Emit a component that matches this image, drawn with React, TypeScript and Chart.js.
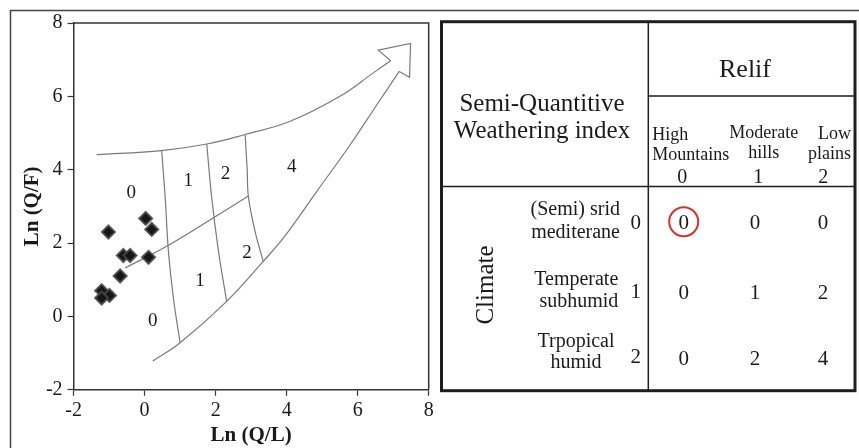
import React, { useEffect, useRef } from "react";
import { Chart, registerables } from "chart.js";
Chart.register(...registerables);

const W = 859;
const H = 448;
const SERIF = '"Liberation Serif", "Times New Roman", serif';

// Scatter samples: Ln(Q/L), Ln(Q/F)
const sampleX = [0.03, 0.2, 0.11, -1.02, -0.6, -0.41, -0.69, -1.21, -0.99, -1.21];
const sampleY = [2.67, 2.37, 1.61, 2.3, 1.66, 1.66, 1.1, 0.7, 0.57, 0.5];

// Diagram outline (arrow-shaped field)
const upperCurve = [[-1.35, 4.41], [0.48, 4.52], [1.75, 4.7], [2.83, 4.96], [4.1, 5.32], [5.5, 6.0], [6.44, 6.64], [6.93, 6.97]];
const arrowHead = [[6.93, 6.97], [6.58, 7.26], [7.49, 7.44], [7.46, 6.52], [7.17, 6.68]];
const lowerCurve = [[0.23, -1.22], [1.0, -0.72], [2.31, 0.41], [3.34, 1.5], [3.91, 2.14], [4.85, 3.41], [5.79, 4.68], [6.54, 5.77], [7.17, 6.68]];
const boundaryA = [[0.48, 4.52], [0.58, 3.23], [0.67, 1.78], [0.81, 0.5], [1.0, -0.72]];
const boundaryB = [[1.75, 4.7], [1.89, 3.23], [2.08, 1.78], [2.31, 0.41]];
const boundaryC = [[2.83, 4.96], [2.89, 3.96], [2.92, 3.28], [3.11, 2.32], [3.34, 1.5]];
const middleLine = [[-0.55, 1.32], [0.62, 1.91], [1.94, 2.69], [2.92, 3.28]];

// Field labels
const fieldText = ["0", "1", "2", "4", "2", "1", "0"];
const fieldX = [-0.38, 1.23, 2.28, 4.14, 2.88, 1.56, 0.23];
const fieldY = [3.37, 3.69, 3.87, 4.08, 1.73, 0.96, -0.13];

// Table contents
const tableTitle = ["Semi-Quantitive", "Weathering index"];
const reliefTitle = "Relif";
const reliefLabels = [["High", "Mountains"], ["Moderate", "hills"], ["Low", "plains"]];
const reliefCodes = ["0", "1", "2"];
const climateTitle = "Climate";
const climateLabels = [["(Semi) srid", "mediterane"], ["Temperate", "subhumid"], ["Trpopical", "humid"]];
const climateCodes = ["0", "1", "2"];
const indexValues = [
  [0, 0, 0],
  [0, 1, 2],
  [0, 2, 4],
];

const toPts = (a: number[][]) => a.map(([x, y]) => ({ x, y }));

export default function App() {
  const ref = useRef<HTMLCanvasElement>(null);
  useEffect(() => {
    const canvas = ref.current;
    if (!canvas) return;
    const lineDs = (data: number[][], tension: number) => ({
      type: "line" as const,
      data: toPts(data),
      showLine: true,
      borderColor: "#7a7a7a",
      borderWidth: 1.2,
      pointRadius: 0,
      tension,
      fill: false,
    });

    const overlay = {
      id: "overlay",
      afterDatasetsDraw(chart: any) {
        const ctx = chart.ctx as CanvasRenderingContext2D;
        const { left, right, top, bottom } = chart.chartArea;
        const xs = chart.scales.x;
        const ys = chart.scales.y;
        ctx.save();
        // top/right frame of plot
        ctx.strokeStyle = "#333";
        ctx.lineWidth = 1.5;
        ctx.beginPath();
        ctx.moveTo(left, top);
        ctx.lineTo(right, top);
        ctx.lineTo(right, bottom);
        ctx.stroke();
        // field labels
        ctx.fillStyle = "#1a1a1a";
        ctx.font = `19px ${SERIF}`;
        ctx.textAlign = "center";
        ctx.textBaseline = "middle";
        fieldText.forEach((t, i) => {
          ctx.fillText(t, xs.getPixelForValue(fieldX[i]), ys.getPixelForValue(fieldY[i]));
        });
        ctx.restore();
      },
      afterDraw(chart: any) {
        const ctx = chart.ctx as CanvasRenderingContext2D;
        ctx.save();
        // outer figure frame
        ctx.strokeStyle = "#444";
        ctx.lineWidth = 1.5;
        ctx.strokeRect(10.5, 10.5, W + 20, H + 20);

        // table
        const tl = 441.5, tt = 21.7, tr = 855, tb = 390.7;
        const vx = 648.3;
        ctx.strokeStyle = "#1e1e1e";
        ctx.lineWidth = 1.5;
        ctx.beginPath();
        ctx.moveTo(vx, tt); ctx.lineTo(vx, tb);
        ctx.moveTo(vx, 96); ctx.lineTo(tr, 96);
        ctx.moveTo(tl, 186.5); ctx.lineTo(tr, 186.5);
        ctx.stroke();
        ctx.lineWidth = 3;
        ctx.strokeRect(tl, tt, tr - tl, tb - tt);

        ctx.fillStyle = "#1a1a1a";
        ctx.textBaseline = "alphabetic";
        ctx.textAlign = "center";
        ctx.font = `26px ${SERIF}`;
        ctx.fillText(reliefTitle, 745, 76.7);
        ctx.font = `25px ${SERIF}`;
        ctx.fillText(tableTitle[0], 542, 111);
        ctx.fillText(tableTitle[1], 542, 138.3);

        ctx.font = `18px ${SERIF}`;
        ctx.textAlign = "left";
        ctx.fillText(reliefLabels[0][0], 652.3, 140);
        ctx.fillText(reliefLabels[0][1], 652.3, 160);
        ctx.textAlign = "center";
        ctx.fillText(reliefLabels[1][0], 763.8, 138.3);
        ctx.fillText(reliefLabels[1][1], 763.8, 158.3);
        ctx.textAlign = "right";
        ctx.fillText(reliefLabels[2][0], 851, 139);
        ctx.fillText(reliefLabels[2][1], 851, 159);

        const colX = [683.7, 755, 823];
        ctx.textAlign = "center";
        ctx.font = `20px ${SERIF}`;
        reliefCodes.forEach((c, i) => ctx.fillText(c, [682.3, 758.3, 823.3][i], 183.3));

        // climate rows
        ctx.font = `20px ${SERIF}`;
        ctx.textAlign = "right";
        ctx.fillText(climateLabels[0][0], 620, 215);
        ctx.fillText(climateLabels[0][1], 620, 238.3);
        ctx.fillText(climateLabels[1][0], 618.3, 285);
        ctx.fillText(climateLabels[1][1], 618.3, 306.7);
        ctx.textAlign = "center";
        ctx.fillText(climateLabels[2][0], 576, 346.7);
        ctx.fillText(climateLabels[2][1], 576, 368.3);

        const rowCodeY = [229.3, 298.3, 362.7];
        const rowValY = [229.3, 299.3, 365];
        ctx.font = `21px ${SERIF}`;
        climateCodes.forEach((c, i) => ctx.fillText(c, 635.7, rowCodeY[i]));
        indexValues.forEach((row, r) =>
          row.forEach((v, c) => ctx.fillText(String(v), colX[c], rowValY[r]))
        );

        // highlight circle
        ctx.strokeStyle = "#d9302c";
        ctx.lineWidth = 2;
        ctx.beginPath();
        ctx.arc(683.7, 221.7, 14.5, 0, Math.PI * 2);
        ctx.stroke();

        // Climate (rotated)
        ctx.translate(486.7, 285);
        ctx.rotate(-Math.PI / 2);
        ctx.font = `25px ${SERIF}`;
        ctx.textAlign = "center";
        ctx.textBaseline = "middle";
        ctx.fillText(climateTitle, 0, 0);
        ctx.restore();
      },
    };

    const chart = new Chart(canvas, {
      type: "scatter",
      data: {
        datasets: [
          {
            data: sampleX.map((x, i) => ({ x, y: sampleY[i] })),
            pointStyle: "rectRot",
            pointRadius: 6.5,
            backgroundColor: "#161616",
            borderColor: "rgba(70,70,70,0.85)",
            borderWidth: 2,
            showLine: false,
          } as any,
          lineDs(upperCurve, 0.4),
          lineDs(arrowHead, 0),
          lineDs(lowerCurve, 0.4),
          lineDs(boundaryA, 0.4),
          lineDs(boundaryB, 0.4),
          lineDs(boundaryC, 0.4),
          lineDs(middleLine, 0.4),
        ],
      },
      options: {
        animation: false,
        responsive: false,
        devicePixelRatio: 1,
        layout: { padding: { left: 10, top: 23, right: W - 428.7, bottom: 0 } },
        plugins: { legend: { display: false }, tooltip: { enabled: false } },
        scales: {
          x: {
            type: "linear",
            min: -2,
            max: 8,
            afterFit: (s: any) => { s.height = 58.3; },
            ticks: { stepSize: 2, padding: 3, color: "#1a1a1a", font: { family: SERIF, size: 20 } },
            grid: { drawOnChartArea: false, drawTicks: true, tickLength: 6, color: "#333", tickWidth: 1.2 },
            border: { display: true, color: "#333", width: 1.5 },
            title: {
              display: true,
              text: "Ln (Q/L)",
              color: "#1a1a1a",
              font: { family: SERIF, size: 21, weight: "bold" },
              padding: { top: 0, bottom: 0 },
            },
          },
          y: {
            type: "linear",
            min: -2,
            max: 8,
            afterFit: (s: any) => { s.width = 63.6; },
            ticks: { stepSize: 2, padding: 5, color: "#1a1a1a", font: { family: SERIF, size: 20 } },
            grid: { drawOnChartArea: false, drawTicks: true, tickLength: 6, color: "#333", tickWidth: 1.2 },
            border: { display: true, color: "#333", width: 1.5 },
            title: {
              display: true,
              text: "Ln (Q/F)",
              color: "#1a1a1a",
              font: { family: SERIF, size: 21, weight: "bold" },
              padding: { top: 10, bottom: 0 },
            },
          },
        },
      } as any,
      plugins: [overlay],
    });
    return () => chart.destroy();
  }, []);

  return (
    <div style={{ position: "absolute", left: 0, top: 0, width: W, height: H, background: "#fff" }}>
      <canvas ref={ref} width={W} height={H} style={{ width: W, height: H, display: "block" }} />
    </div>
  );
}
